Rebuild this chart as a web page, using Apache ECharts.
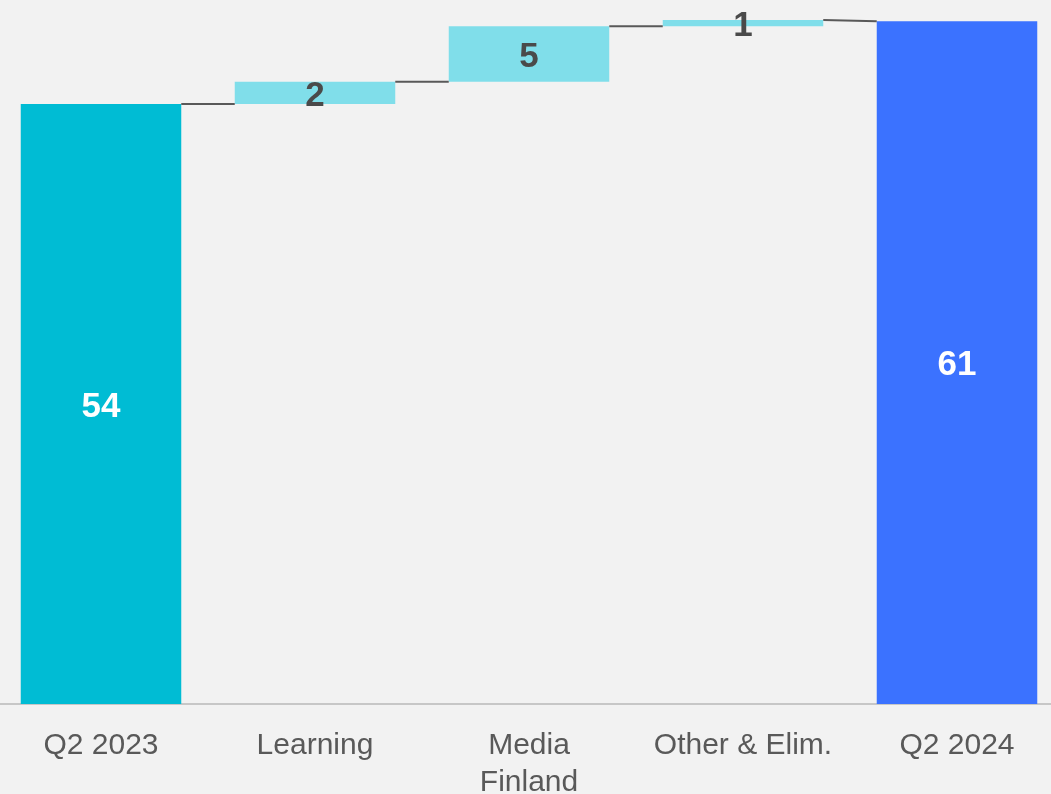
<!DOCTYPE html>
<html>
<head>
<meta charset="utf-8">
<script src="https://cdn.jsdelivr.net/npm/echarts@6/dist/echarts.min.js"></script>
<style>
html,body{margin:0;padding:0;background:#f2f2f2;}
#chart{width:1051px;height:794px;}
</style>
</head>
<body>
<div id="chart"></div>
<script>
const categories = ['Q2 2023', 'Learning', 'Media\nFinland', 'Other & Elim.', 'Q2 2024'];
const startValue = 54.0;
const deltas = [2.0, 5.0, 0.55];
const endValue = 61.45;

const colors = ['#00bcd4', '#80deea', '#80deea', '#80deea', '#3b72ff'];

// build waterfall base & visible values
const baseVals = [0];
const barVals = [startValue];
let cum = startValue;
deltas.forEach(d => { baseVals.push(cum); barVals.push(d); cum += d; });
baseVals.push(0);
barVals.push(endValue);
const tops = barVals.map((v, i) => baseVals[i] + v);

// connector segments: from top of bar i to start level of bar i+1
const connectors = [];
for (let i = 0; i < categories.length - 1; i++) {
  const nextLevel = (i + 1 === categories.length - 1) ? tops[i + 1] : baseVals[i + 1];
  connectors.push([i, tops[i], nextLevel]);
}

const chart = echarts.init(document.getElementById('chart'));
chart.setOption({
  backgroundColor: '#f2f2f2',
  animation: false,
  grid: { left: -6, width: 1070, top: 0, height: 704, containLabel: false, outerBoundsMode: 'none' },
  xAxis: {
    type: 'category',
    data: categories,
    axisLine: { lineStyle: { color: '#b8b8b8', width: 1.5 } },
    axisTick: { show: false },
    axisLabel: {
      color: '#595959', fontSize: 30, fontFamily: 'Liberation Sans, Arial, sans-serif',
      lineHeight: 37, margin: 23, interval: 0
    }
  },
  yAxis: { type: 'value', min: 0, max: 63.36, show: false, splitLine: { show: false } },
  series: [
    {
      type: 'bar', stack: 'wf', barCategoryGap: '25%',
      itemStyle: { color: 'transparent' },
      data: baseVals, silent: true
    },
    {
      type: 'bar', stack: 'wf', barCategoryGap: '25%',
      data: barVals.map((v, i) => ({
        value: v,
        itemStyle: { color: colors[i] },
        label: {
          show: true, position: 'inside', offset: [0, 3],
          color: (i === 0 || i === categories.length - 1) ? '#ffffff' : '#4a4a4a',
          fontSize: 35, fontWeight: 'bold',
          fontFamily: 'Liberation Sans, Arial, sans-serif',
          formatter: () => String(Math.round(v))
        }
      }))
    },
    {
      type: 'custom',
      data: connectors,
      z: 5,
      renderItem: function (params, api) {
        const i = api.value(0);
        const p1 = api.coord([i, api.value(1)]);
        const p2 = api.coord([i + 1, api.value(2)]);
        const band = api.size([1, 0])[0];
        const half = band * 0.75 / 2;
        return {
          type: 'line',
          shape: { x1: p1[0] + half, y1: p1[1], x2: p2[0] - half, y2: p2[1] },
          style: { stroke: '#595959', lineWidth: 2 }
        };
      }
    }
  ]
});
</script>
</body>
</html>
